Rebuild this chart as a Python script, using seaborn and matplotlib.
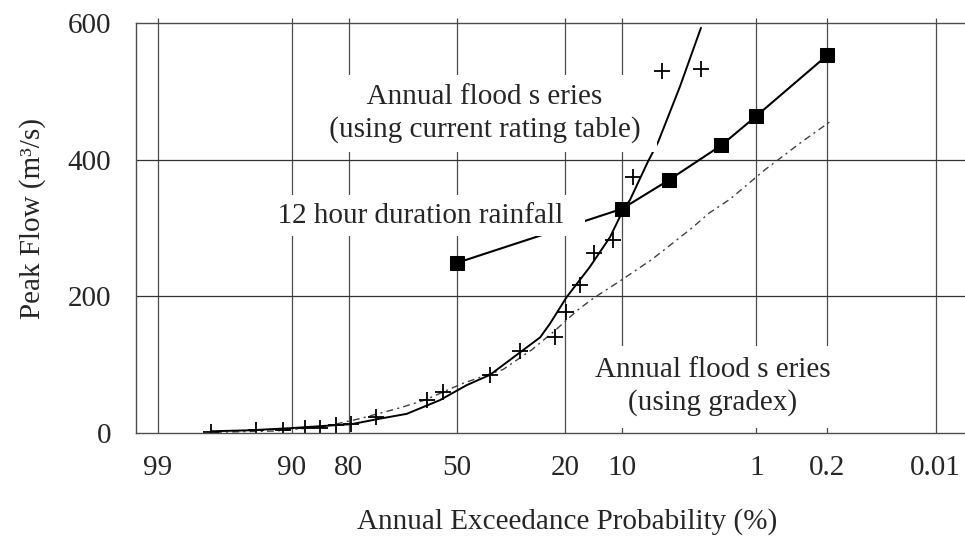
import numpy as np
import pandas as pd
import seaborn as sns
import matplotlib.pyplot as plt
from statistics import NormalDist

# probability axis ticks (annual exceedance probability, %)
prob_ticks = [99, 90, 80, 50, 20, 10, 1, 0.2, 0.01]
tick_labels = ["99", "90", "80", "50", "20", "10", "1", "0.2", "0.01"]

# 12 hour duration rainfall
rain_aep = [50, 10, 5, 2, 1, 0.2]
rain_flow = [249, 328, 370, 421, 464, 553]

# annual flood series, plotted peaks (current rating table)
obs_aep = [97.2, 94.1, 91.2, 88.1, 85.6, 82.6, 79.5, 73.5, 59.1, 54.2,
           39.9, 31.2, 22.3, 19.9, 17.0, 14.4, 11.3, 8.6, 5.6, 2.9]
obs_flow = [1.5, 4, 4, 7, 7, 11, 12.5, 23, 48, 60,
            85, 120, 141, 177, 217, 263, 282, 375, 530, 533]

# fitted curve through the annual series (current rating table)
fit_aep = [97.2, 94.6, 90.3, 79.3, 72.5, 65.2, 55.3, 47.0, 39.9, 31.2, 25.9,
           23.5, 19.7, 15.1, 11.7, 9.85, 8.95, 6.9, 5.9, 4.16, 2.9]
fit_flow = [2.5, 4, 7, 13, 21, 28, 48, 70, 85, 118, 140,
            160, 199, 243, 287, 326, 341, 397, 426, 507, 593]

# annual flood series (using gradex)
grad_aep = [97, 92, 85, 77.5, 67, 60, 48, 36, 28, 22.3, 17.4, 14.5, 9.9,
            6.5, 5.3, 3.4, 2.5, 1.7, 0.84, 0.37, 0.19]
grad_flow = [1, 3, 9, 21, 37, 48, 73, 93, 122, 150, 180, 197, 225,
             254, 269, 300, 322, 342, 385, 426, 455]


def to_z(aep):
    # normal probability paper: exceedance % -> standard normal variate
    nd = NormalDist()
    return np.array([nd.inv_cdf(1 - p / 100.0) for p in np.atleast_1d(aep)])


rain = pd.DataFrame({"z": to_z(rain_aep), "flow": rain_flow})
obs = pd.DataFrame({"z": to_z(obs_aep), "flow": obs_flow})
fit = pd.DataFrame({"z": to_z(fit_aep), "flow": fit_flow})
grad = pd.DataFrame({"z": to_z(grad_aep), "flow": grad_flow})

sns.set_theme(style="white")
plt.rcParams["font.family"] = ["Liberation Serif", "DejaVu Serif"]

fig = plt.figure(figsize=(9.65, 5.43), dpi=100)
ax = fig.add_axes([0.1409, 0.2026, 0.8591, 0.755])

tick_z = to_z(prob_ticks)
# gridlines (drawn by hand so the text boxes can mask them)
ax.vlines(tick_z, 0, 1.012, transform=ax.get_xaxis_transform(),
          color="0.3", lw=0.9, clip_on=False, zorder=1)
for yv in [200, 400]:
    ax.axhline(yv, color="0.2", lw=0.9, zorder=1)

sns.lineplot(data=grad, x="z", y="flow", sort=False, estimator=None, ax=ax,
             color="0.25", lw=1.0, linestyle=(0, (5, 3, 1.5, 3)), zorder=2)
sns.lineplot(data=fit, x="z", y="flow", sort=False, estimator=None, ax=ax,
             color="black", lw=1.4, zorder=2)
sns.scatterplot(data=obs, x="z", y="flow", ax=ax, marker="+", s=120,
                color="black", linewidth=1.3, zorder=2)
sns.lineplot(data=rain, x="z", y="flow", sort=False, estimator=None, ax=ax,
             color="black", lw=1.5, marker="s", markersize=10,
             markeredgecolor="black", zorder=2)

fs = 21
ax.text(0.218, 468, " Annual flood s eries \n (using current rating table) ",
        ha="center", va="center", fontsize=fs, linespacing=1.3, zorder=3,
        bbox=dict(facecolor="white", edgecolor="none",
                  boxstyle="square,pad=0.3"))
ax.text(-0.287, 318, "  12 hour duration rainfall  ", ha="center",
        va="center", fontsize=fs, zorder=3,
        bbox=dict(facecolor="white", edgecolor="none",
                  boxstyle="square,pad=0.25"))
ax.text(1.989, 68, "Annual flood s eries\n(using gradex)", ha="center",
        va="center", fontsize=fs, linespacing=1.3, zorder=3,
        bbox=dict(facecolor="white", edgecolor="none",
                  boxstyle="square,pad=0.4"))

ax.set_xlim((136 - 457) / 128.7, (965 - 457) / 128.7)
ax.set_ylim(0, 600)
ax.set_xticks(tick_z)
ax.set_xticklabels(tick_labels)
ax.set_yticks([0, 200, 400, 600])
ax.tick_params(axis="x", direction="in", length=6, width=0.9, color="0.3",
               pad=16, labelsize=fs)
ax.tick_params(axis="y", length=0, pad=18, labelsize=fs)
ax.xaxis.set_zorder(4)

for side in ["left", "top", "bottom"]:
    ax.spines[side].set_color("0.3")
    ax.spines[side].set_linewidth(1.0)
ax.spines["right"].set_visible(False)

ax.set_xlabel("Annual Exceedance Probability (%)", fontsize=fs)
ax.xaxis.label.set_ha("left")
ax.xaxis.label.set_va("center")
ax.xaxis.set_label_coords((357 - 136) / 829, -0.215)
ax.set_ylabel("Peak Flow (m³/s)", fontsize=fs)
ax.yaxis.label.set_va("center")
ax.yaxis.set_label_coords(-0.125, 0.524)

fig.savefig("out.png", dpi=100)
